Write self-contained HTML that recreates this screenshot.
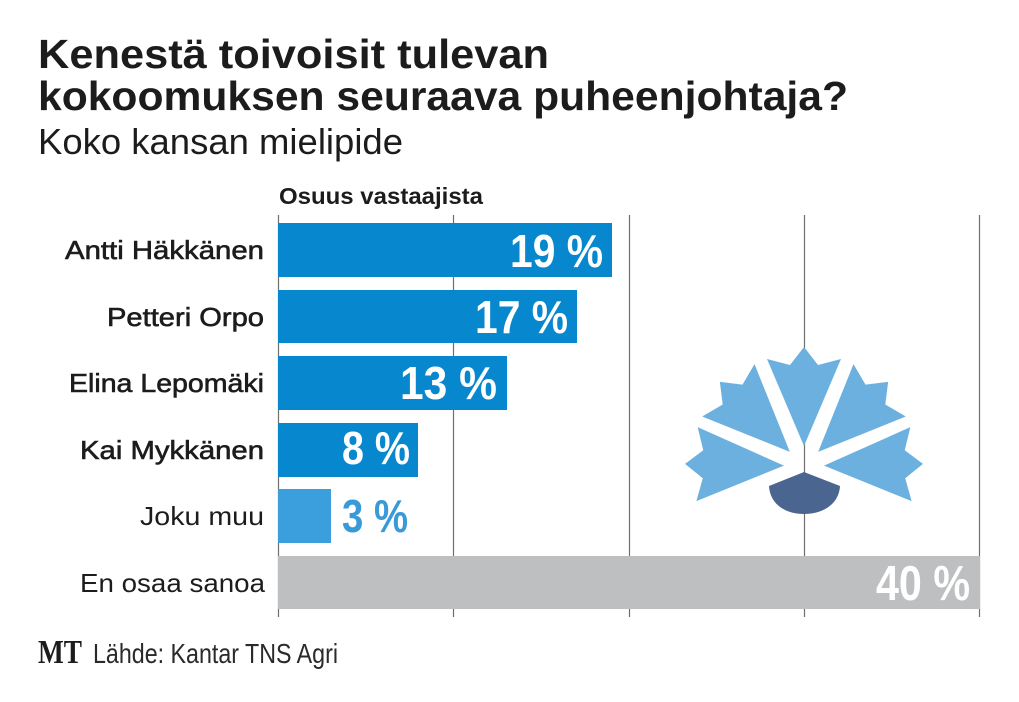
<!DOCTYPE html>
<html>
<head>
<meta charset="utf-8">
<style>
  html, body { margin: 0; padding: 0; background: #ffffff; }
  svg { display: block; }
  .t { font-family: "Liberation Sans", "DejaVu Sans", sans-serif; }
</style>
</head>
<body>
<svg width="1019" height="702" viewBox="0 0 1019 702" xmlns="http://www.w3.org/2000/svg">
  <rect x="0" y="0" width="1019" height="702" fill="#ffffff"/>

  <!-- Title -->
  <text class="t" x="38" y="68" font-size="41" font-weight="700" fill="#1c1c1c" textLength="511" lengthAdjust="spacingAndGlyphs">Kenestä toivoisit tulevan</text>
  <text class="t" x="38" y="110" font-size="41" font-weight="700" fill="#1c1c1c" textLength="810" lengthAdjust="spacingAndGlyphs">kokoomuksen seuraava puheenjohtaja?</text>
  <text class="t" x="38" y="154" font-size="36" font-weight="400" fill="#1c1c1c" textLength="365" lengthAdjust="spacingAndGlyphs">Koko kansan mielipide</text>

  <text class="t" x="279" y="204" font-size="23" font-weight="700" fill="#1c1c1c" textLength="204" lengthAdjust="spacingAndGlyphs">Osuus vastaajista</text>

  <!-- Grid lines -->
  <g stroke="#707070" stroke-width="1.2">
    <line x1="278.5" y1="215" x2="278.5" y2="617"/>
    <line x1="453.5" y1="215" x2="453.5" y2="617"/>
    <line x1="629.5" y1="215" x2="629.5" y2="617"/>
    <line x1="804.5" y1="215" x2="804.5" y2="617"/>
    <line x1="979.5" y1="215" x2="979.5" y2="617"/>
  </g>

  <!-- Flower -->
  <g fill="#6cb0e0">
    <path id="petal" d="M804,446 L767,359 L790,365 L804,347 L818,365 L841,359 Z" transform="rotate(0 804 466)"/>
    <path d="M804,446 L767,359 L790,365 L804,347 L818,365 L841,359 Z" transform="rotate(-45 804 466)"/>
    <path d="M804,446 L767,359 L790,365 L804,347 L818,365 L841,359 Z" transform="rotate(45 804 466)"/>
    <path d="M804,446 L767,359 L790,365 L804,347 L818,365 L841,359 Z" transform="rotate(-89 804 466)"/>
    <path d="M804,446 L767,359 L790,365 L804,347 L818,365 L841,359 Z" transform="rotate(89 804 466)"/>
  </g>
  <path d="M769,486 L804,472 L840,486 C839,504 823,514 804,514 C785,514 770,504 769,486 Z" fill="#4b6591"/>

  <!-- Bars -->
  <rect x="278" y="223" width="334" height="54" fill="#0787cd"/>
  <rect x="278" y="290" width="299" height="53" fill="#0787cd"/>
  <rect x="278" y="356" width="229" height="54" fill="#0787cd"/>
  <rect x="278" y="423" width="140" height="54" fill="#0787cd"/>
  <rect x="278" y="489" width="53" height="54" fill="#3a9fdc"/>
  <rect x="278" y="556" width="702" height="53" fill="#bdbfc1"/>

  <!-- Labels -->
  <g class="t" font-size="26" fill="#1c1c1c" text-anchor="end">
    <text x="264" y="259" stroke="#1c1c1c" stroke-width="0.6" textLength="199" lengthAdjust="spacingAndGlyphs">Antti Häkkänen</text>
    <text x="264" y="326" stroke="#1c1c1c" stroke-width="0.6" textLength="157" lengthAdjust="spacingAndGlyphs">Petteri Orpo</text>
    <text x="264" y="392" stroke="#1c1c1c" stroke-width="0.6" textLength="195" lengthAdjust="spacingAndGlyphs">Elina Lepomäki</text>
    <text x="264" y="459" stroke="#1c1c1c" stroke-width="0.6" textLength="184" lengthAdjust="spacingAndGlyphs">Kai Mykkänen</text>
    <text x="264" y="525" textLength="124" lengthAdjust="spacingAndGlyphs">Joku muu</text>
    <text x="265" y="592" textLength="185" lengthAdjust="spacingAndGlyphs">En osaa sanoa</text>
  </g>

  <!-- Values -->
  <g class="t" font-size="46" font-weight="700">
    <text x="510" y="267" fill="#ffffff" textLength="93" lengthAdjust="spacingAndGlyphs">19 %</text>
    <text x="475" y="333" fill="#ffffff" textLength="93" lengthAdjust="spacingAndGlyphs">17 %</text>
    <text x="400" y="399" fill="#ffffff" textLength="97" lengthAdjust="spacingAndGlyphs">13 %</text>
    <text x="342" y="464" fill="#ffffff" textLength="68" lengthAdjust="spacingAndGlyphs">8 %</text>
    <text x="342" y="532" fill="#3a9ad8" textLength="66" lengthAdjust="spacingAndGlyphs">3 %</text>
    <text x="876" y="600" fill="#ffffff" font-size="49" textLength="94" lengthAdjust="spacingAndGlyphs">40 %</text>
  </g>

  <!-- Footer -->
  <text x="38" y="663" font-family="Liberation Serif, serif" font-size="34" font-weight="700" fill="#1c1c1c" textLength="44" lengthAdjust="spacingAndGlyphs">MT</text>
  <text class="t" x="93" y="663" font-size="28" font-weight="400" fill="#2a2a2a" textLength="245" lengthAdjust="spacingAndGlyphs">Lähde: Kantar TNS Agri</text>
</svg>
</body>
</html>
